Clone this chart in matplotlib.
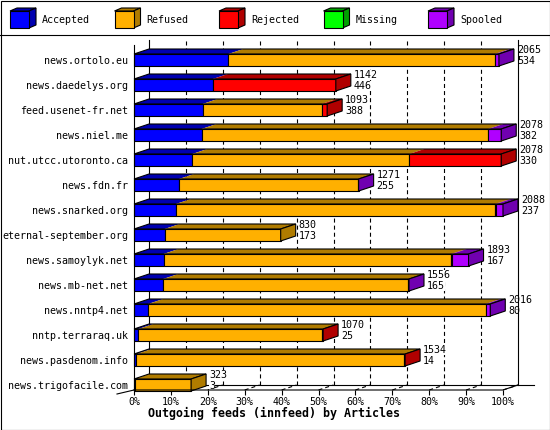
import matplotlib
matplotlib.use('Agg')
import matplotlib.pyplot as plt
from matplotlib.patches import Polygon, Rectangle

# innfeed outgoing feeds, articles per peer
hosts = ['news.ortolo.eu', 'news.daedelys.org', 'feed.usenet-fr.net', 'news.niel.me',
         'nut.utcc.utoronto.ca', 'news.fdn.fr', 'news.snarked.org', 'eternal-september.org',
         'news.samoylyk.net', 'news.mb-net.net', 'news.nntp4.net', 'nntp.terraraq.uk',
         'news.pasdenom.info', 'news.trigofacile.com']
offered  = [2065, 1142, 1093, 2078, 2078, 1271, 2088, 830, 1893, 1556, 2016, 1070, 1534, 323]
accepted = [534, 446, 388, 382, 330, 255, 237, 173, 167, 165, 80, 25, 14, 3]
refused  = [1509, 0, 674, 1623, 1228, 1010, 1806, 657, 1627, 1388, 1910, 1040, 1515, 320]
rejected = [0, 696, 31, 0, 520, 0, 5, 0, 4, 0, 0, 5, 5, 0]
missing  = [0, 0, 0, 0, 0, 0, 0, 0, 0, 0, 0, 0, 0, 0]
spooled  = [22, 0, 0, 73, 0, 6, 40, 0, 95, 3, 26, 0, 0, 0]

categories = ['Accepted', 'Refused', 'Rejected', 'Missing', 'Spooled']
series = [accepted, refused, rejected, missing, spooled]
front_colors = ['#0000ff', '#ffb000', '#ff0000', '#00ff00', '#b000ff']
shade_colors = ['#0000b0', '#b07c00', '#b00000', '#00a000', '#7000b0']

xticks = list(range(0, 101, 10))
xlabel = 'Outgoing feeds (innfeed) by Articles'

plt.rcParams['font.family'] = ['DejaVu Sans Mono']
plt.rcParams['lines.scale_dashes'] = False
FS = 7.2
LW = 0.8
DASH = (0, (2.9, 2.2))

W, H = 550, 430
fig = plt.figure(figsize=(5.5, 4.3), dpi=100)

# pixel overlay for border + legend
pix = fig.add_axes([0, 0, 1, 1])
pix.set_xlim(0, W)
pix.set_ylim(H, 0)
pix.axis('off')
pix.add_patch(Rectangle((0.5, 0.5), W - 1, H - 1, fill=False, ec='black', lw=LW))
pix.plot([0, W], [35, 35], color='black', lw=LW)

for k, name in enumerate(categories):
    lx = 10 + 104.5 * k
    pix.add_patch(Polygon([(lx, 11), (lx + 19, 11), (lx + 26, 8), (lx + 7, 8)],
                          fc=shade_colors[k], ec='black', lw=LW))
    pix.add_patch(Polygon([(lx + 19, 11), (lx + 26, 8), (lx + 26, 25), (lx + 19, 28)],
                          fc=shade_colors[k], ec='black', lw=LW))
    pix.add_patch(Rectangle((lx, 11), 19, 17, fc=front_colors[k], ec='black', lw=LW))
    pix.text(lx + 32, 20, name, fontsize=FS, ha='left', va='center')

pix.text(274, 413, xlabel, fontsize=8.4, fontweight='bold', ha='center', va='center')

# plot area: 0..100 % between px 134 and 503, rows 25 px apart
x0px, x1px, top_px, floor_px = 134, 503, 38, 390
ax = fig.add_axes([x0px / W, 1 - floor_px / H, (x1px - x0px) / W, (floor_px - top_px) / H])
ax.patch.set_visible(False)
ppx = (x1px - x0px) / 100.0
ybot = (floor_px - 60) / 25.0
ytop = (top_px - 60) / 25.0
ax.set_xlim(0, 100)
ax.set_ylim(ybot, ytop)
for s in ax.spines.values():
    s.set_visible(False)

dx = 15 / ppx
dy = 0.2
hh = 0.24
yback_top = ytop + 0.08
yback_bot = ybot - dy

ax.set_xticks(xticks)
ax.set_xticklabels(['%d%%' % t for t in xticks], fontsize=FS)
ax.tick_params(axis='x', direction='out', length=3.5, width=LW, pad=1.5)
ax.set_yticks(range(len(hosts)))
ax.set_yticklabels(hosts, fontsize=FS)
ax.tick_params(axis='y', length=0, pad=4)

# walls, floor and grid
kw = dict(color='black', lw=LW, clip_on=False)
for t in xticks[1:-1]:
    ax.plot([t + dx, t + dx], [yback_bot, yback_top], ls=DASH, zorder=1, **kw)
for t in xticks:
    ax.plot([t, t + dx], [ybot, yback_bot], ls=DASH, zorder=1, **kw)
ax.plot([dx, dx], [yback_bot, yback_top], zorder=1, **kw)
ax.plot([100 + dx, 100 + dx], [yback_bot, yback_top], zorder=5, **kw)
ax.plot([0, 0], [ybot, yback_top + dy], zorder=5, **kw)
ax.plot([0, 100, 100 + dx], [ybot, ybot, yback_bot], zorder=5, **kw)
ax.plot([dx, 100 + dx + 16 / ppx], [yback_bot, yback_bot], zorder=1, **kw)
ax.plot([-17 / ppx, 0], [ybot + 0.16, ybot], zorder=5, **kw)

maxv = float(max(offered))
for i in range(len(hosts)):
    left = 0.0
    last = 0
    for k in range(len(categories)):
        v = series[k][i]
        if v == 0:
            continue
        w = v / maxv * 100
        ax.add_patch(Polygon([(left, i - hh), (left + w, i - hh), (left + w + dx, i - hh - dy),
                              (left + dx, i - hh - dy)], fc=shade_colors[k], ec='none',
                             clip_on=False, zorder=2))
        ax.add_patch(Rectangle((left, i - hh), w, 2 * hh, fc=front_colors[k], ec='black',
                               lw=LW, clip_on=False, zorder=3))
        left += w
        last = k
    ax.add_patch(Polygon([(0, i - hh), (left, i - hh), (left + dx, i - hh - dy), (dx, i - hh - dy)],
                         fill=False, ec='black', lw=LW, clip_on=False, zorder=3))
    ax.add_patch(Polygon([(left, i - hh), (left + dx, i - hh - dy), (left + dx, i + hh - dy),
                          (left, i + hh)], fc=shade_colors[last], ec='black', lw=LW,
                         clip_on=False, zorder=3))
    tx = left + dx + 3 / ppx
    box = dict(fc='white', ec='none', pad=0)
    ax.text(tx, i - 0.4, str(offered[i]), fontsize=FS, ha='left', va='center',
            bbox=box, clip_on=False, zorder=4)
    ax.text(tx, i + 0.04, str(accepted[i]), fontsize=FS, ha='left', va='center',
            bbox=box, clip_on=False, zorder=4)

fig.savefig('out.png', dpi=100)
